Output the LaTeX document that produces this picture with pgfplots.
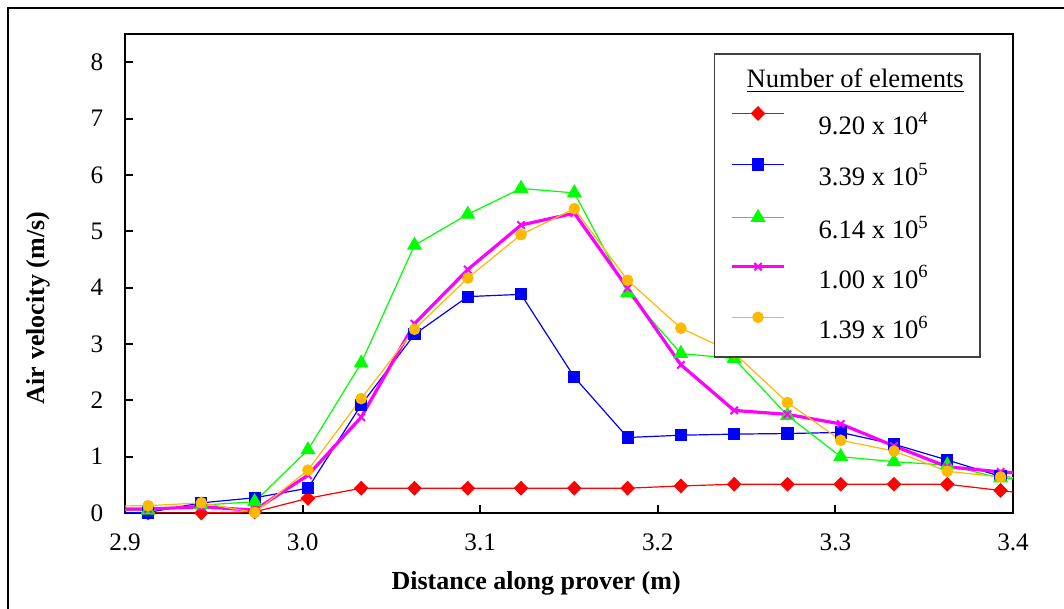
\documentclass[border=0pt]{standalone}
\usepackage{pgfplots}
\pgfplotsset{compat=1.18}
\usepackage{pgfplotstable}
\usepackage{fontspec}
\setmainfont{Liberation Serif}
\definecolor{cred}{RGB}{255,0,0}
\definecolor{cblue}{RGB}{0,0,255}
\definecolor{cgreen}{RGB}{0,255,0}
\definecolor{cmag}{RGB}{255,0,255}
\definecolor{corange}{RGB}{255,185,0}
\pgfplotstableread{
x      r     b     g     m     o
2.883  0.00  0.01  0.04  0.07  0.12
2.913  0.00  0.01  0.05  0.07  0.13
2.943  0.00  0.18  0.14  0.11  0.18
2.973  0.02  0.27  0.20  0.05  0.01
3.003  0.26  0.44  1.12  0.67  0.76
3.033  0.44  1.92  2.66  1.70  2.03
3.063  0.44  3.17  4.75  3.36  3.26
3.093  0.44  3.84  5.30  4.32  4.17
3.123  0.44  3.88  5.76  5.11  4.94
3.153  0.44  2.41  5.68  5.32  5.40
3.183  0.44  1.34  3.91  3.99  4.13
3.213  0.48  1.38  2.83  2.63  3.28
3.243  0.51  1.40  2.74  1.82  2.84
3.273  0.51  1.41  1.73  1.75  1.96
3.303  0.51  1.43  1.00  1.58  1.29
3.333  0.51  1.22  0.91  1.19  1.10
3.363  0.51  0.94  0.85  0.82  0.74
3.393  0.40  0.65  0.62  0.73  0.64
3.423  0.28  0.55  0.55  0.67  0.60
}\datatable
\begin{document}
\begin{tikzpicture}
\useasboundingbox (0,0) rectangle (532pt,304.5pt);
\fill[white] (0,0) rectangle (532pt,304.5pt);
\draw[line width=1pt] (4pt,0) -- (4pt,300.5pt) -- (532pt,300.5pt);
\begin{axis}[
  at={(62.5pt,48pt)}, anchor=south west,
  scale only axis, width=444pt, height=239.5pt,
  xmin=2.9, xmax=3.4, ymin=0, ymax=8.5,
  xtick={2.9,3.0,3.1,3.2,3.3,3.4},
  ytick={0,1,2,3,4,5,6,7,8},
  tick align=inside, major tick length=4pt,
  xtick pos=left, ytick pos=left,
  axis line style={line width=1pt},
  tick style={line width=1pt, black},
  /pgf/number format/assume math mode=true,
  xticklabel style={/pgf/number format/fixed, /pgf/number format/fixed zerofill, /pgf/number format/precision=1, yshift=-6.8pt},
  tick label style={font=\fontsize{12.6}{15}\selectfont},
  yticklabel style={xshift=-7.3pt},
  xlabel={Distance along prover (m)},
  ylabel={Air velocity (m/s)},
  every axis x label/.style={at={(rel axis cs:0.463,-0.146)}, anchor=center, font=\fontsize{13}{16}\selectfont\bfseries},
  every axis y label/.style={at={(rel axis cs:-0.098,0.428)}, rotate=90, anchor=center, font=\fontsize{13}{16}\selectfont\bfseries},
  every axis plot/.append style={line width=0.6pt},
  legend cell align=left,
  legend style={
    at={(rel axis cs:0.663,0.960)}, anchor=north west,
    draw=black!75, line width=0.7pt, fill=white,
    font=\fontsize{13.3}{16}\selectfont,
    inner xsep=8pt, inner ysep=3.5pt,
    row sep=6.5pt, column sep=16.5pt,
    nodes={inner sep=0pt, text height=11pt, text depth=5.5pt},
  },
  legend image code/.code={
    \draw[#1, mark indices={2}] plot coordinates {(0pt,8pt) (13pt,8pt) (26pt,8pt)};
  },
]
\addlegendimage{empty legend}
\addlegendentry{\hspace{-36pt}\raisebox{-2.5pt}{\underline{Number of elements}}}
\addplot[cred, mark=diamond*, mark size=3.3pt, mark options={xscale=1.3},
  mark indices={1,2,3,4,5,6,7,8,9,10,11,12,13,14,15,16,17}] table[x=x,y=r] {\datatable};
\addlegendentry{9.20 x 10\textsuperscript{4}}
\addplot[cblue, mark=square*, mark size=2.75pt,
  mark indices={1,2,3,4,5,6,7,8,9,10,11,12,13,14,15,16,17}] table[x=x,y=b] {\datatable};
\addlegendentry{3.39 x 10\textsuperscript{5}}
\addplot[cgreen, mark=triangle*, mark size=3.75pt,
  mark indices={1,2,3,4,5,6,7,8,9,10,11,12,13,14,15,16,17}] table[x=x,y=g] {\datatable};
\addlegendentry{6.14 x 10\textsuperscript{5}}
\addplot[cmag, line width=1.6pt, mark=x, mark size=2.6pt, mark options={line width=1pt},
  mark indices={1,2,3,4,5,6,7,8,9,10,11,12,13,14,15,16,17}] table[x=x,y=m] {\datatable};
\addlegendentry{1.00 x 10\textsuperscript{6}}
\addplot[corange, mark=*, mark size=2.6pt,
  mark indices={1,2,3,4,5,6,7,8,9,10,11,12,13,14,15,16,17}] table[x=x,y=o] {\datatable};
\addlegendentry{1.39 x 10\textsuperscript{6}}
\end{axis}
\end{tikzpicture}
\end{document}
